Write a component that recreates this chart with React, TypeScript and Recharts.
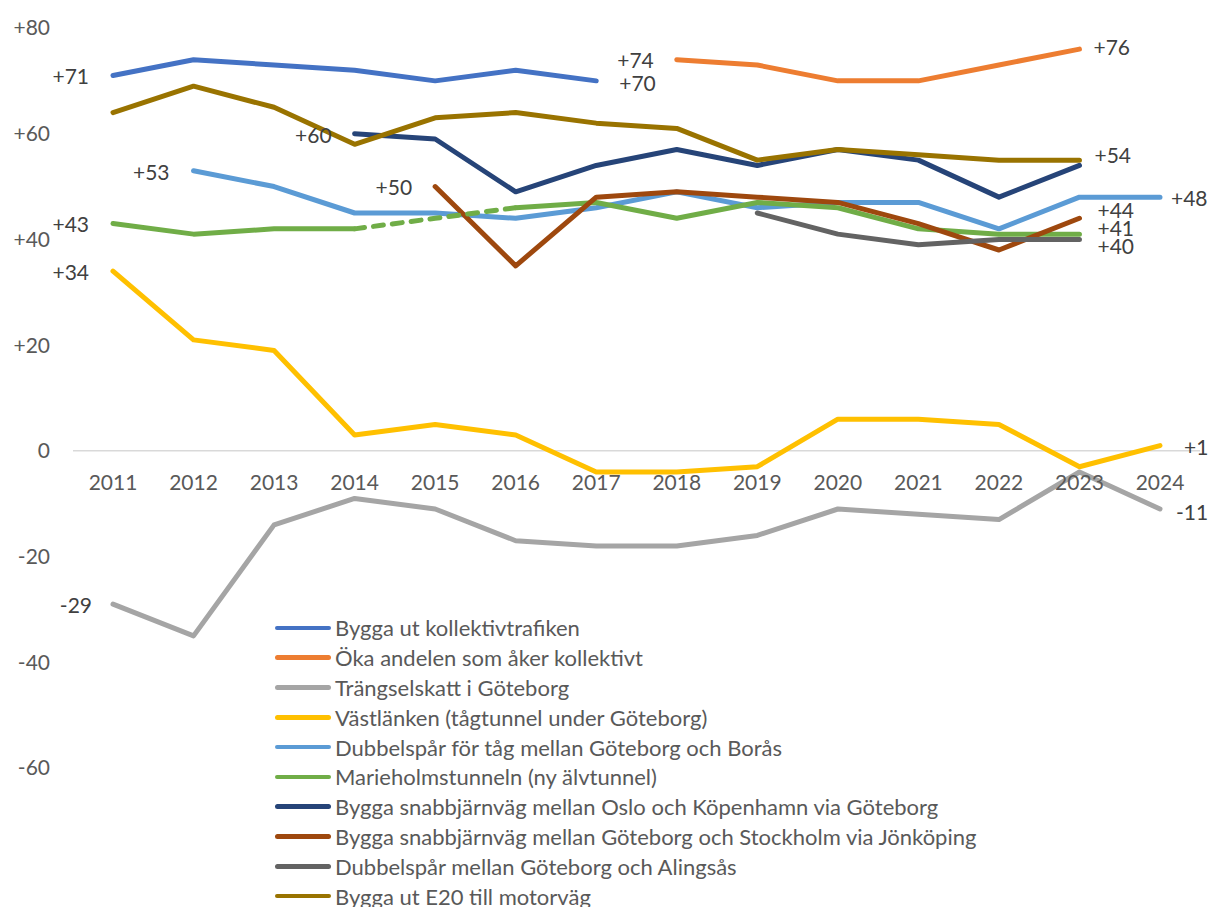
import { LineChart, Line, XAxis, YAxis, ReferenceLine, LabelList } from 'recharts';

const YEARS = ['2011', '2012', '2013', '2014', '2015', '2016', '2017', '2018', '2019', '2020', '2021', '2022', '2023', '2024'];
const Y_TICKS = [-60, -40, -20, 0, 20, 40, 60, 80];

// opinion balance per year (null = not asked that year)
const KOLLEKTIVTRAFIK = [71, 74, 73, 72, 70, 72, 70, null, null, null, null, null, null, null];
const OKA_ANDEL = [null, null, null, null, null, null, null, 74, 73, 70, 70, 73, 76, null];
const TRANGSELSKATT = [-29, -35, -14, -9, -11, -17, -18, -18, -16, -11, -12, -13, -4, -11];
const VASTLANKEN = [34, 21, 19, 3, 5, 3, -4, -4, -3, 6, 6, 5, -3, 1];
const BORAS = [null, 53, 50, 45, 45, 44, 46, 49, 46, 47, 47, 42, 48, 48];
const MARIEHOLM = [43, 41, 42, 42, null, 46, 47, 44, 47, 46, 42, 41, 41, null];
const MARIEHOLM_GAP = [null, null, null, 42, 44, 46, null, null, null, null, null, null, null, null];
const OSLO = [null, null, null, 60, 59, 49, 54, 57, 54, 57, 55, 48, 54, null];
const STOCKHOLM = [null, null, null, null, 50, 35, 48, 49, 48, 47, 43, 38, 44, null];
const ALINGSAS = [null, null, null, null, null, null, null, null, 45, 41, 39, 40, 40, null];
const E20 = [64, 69, 65, 58, 63, 64, 62, 61, 55, 57, 56, 55, 55, null];

const SERIES_KEYS = ['kollektiv', 'oka', 'trangsel', 'vastlanken', 'boras', 'marieholm', 'oslo', 'stockholm', 'alingsas', 'e20'];
const SERIES_NAMES = [
  'Bygga ut kollektivtrafiken',
  'Öka andelen som åker kollektivt',
  'Trängselskatt i Göteborg',
  'Västlänken (tågtunnel under Göteborg)',
  'Dubbelspår för tåg mellan Göteborg och Borås',
  'Marieholmstunneln (ny älvtunnel)',
  'Bygga snabbjärnväg mellan Oslo och Köpenhamn via Göteborg',
  'Bygga snabbjärnväg mellan Göteborg och Stockholm via Jönköping',
  'Dubbelspår mellan Göteborg och Alingsås',
  'Bygga ut E20 till motorväg',
];
const SERIES_VALUES = [KOLLEKTIVTRAFIK, OKA_ANDEL, TRANGSELSKATT, VASTLANKEN, BORAS, MARIEHOLM, OSLO, STOCKHOLM, ALINGSAS, E20];

const COLORS = ['#4472C4', '#ED7D31', '#A5A5A5', '#FFC000', '#5B9BD5', '#70AD47', '#264478', '#9E480E', '#636363', '#997300'];

const data = YEARS.map((year, i) => {
  const row: Record<string, any> = { year, marieholmGap: MARIEHOLM_GAP[i] };
  SERIES_KEYS.forEach((k, s) => { row[k] = SERIES_VALUES[s][i]; });
  return row;
});

type LabelSpec = { index: number; side: 'left' | 'right'; gap: number; dy: number };

// which points carry a value label, and where it sits
const LABELS: Record<string, LabelSpec[]> = {
  kollektiv: [{ index: 0, side: 'left', gap: 24, dy: 0 }, { index: 6, side: 'right', gap: 23, dy: 2 }],
  oka: [{ index: 7, side: 'left', gap: 23, dy: 0 }, { index: 12, side: 'right', gap: 14, dy: -3 }],
  trangsel: [{ index: 0, side: 'left', gap: 21, dy: 0 }, { index: 13, side: 'right', gap: 16, dy: 2 }],
  vastlanken: [{ index: 0, side: 'left', gap: 24, dy: 0 }, { index: 13, side: 'right', gap: 24, dy: 1 }],
  boras: [{ index: 1, side: 'left', gap: 24, dy: 1 }, { index: 13, side: 'right', gap: 11, dy: 0 }],
  marieholm: [{ index: 0, side: 'left', gap: 24, dy: 0 }, { index: 12, side: 'right', gap: 18, dy: -7 }],
  oslo: [{ index: 3, side: 'left', gap: 23, dy: 1 }, { index: 12, side: 'right', gap: 15, dy: -11 }],
  stockholm: [{ index: 4, side: 'left', gap: 23, dy: 0 }, { index: 12, side: 'right', gap: 18, dy: -9 }],
  alingsas: [{ index: 12, side: 'right', gap: 18, dy: 6 }],
  e20: [],
};

const WIDTH = 1208;
const HEIGHT = 907;
const MARGIN = { top: 28, right: 8, bottom: 109, left: 0 };
const X_AXIS_H = 30;
const Y_MIN = -60;
const Y_MAX = 80;
const PLOT_BOTTOM = HEIGHT - MARGIN.bottom - X_AXIS_H;
const ZERO_Y = MARGIN.top + ((Y_MAX - 0) / (Y_MAX - Y_MIN)) * (PLOT_BOTTOM - MARGIN.top);

const FONT = 'Lato, "Noto Sans", sans-serif';
const TEXT_SIZE = 21;

const fmt = (v: number) => (v > 0 ? `+${v}` : `${v}`);

const makeLabel = (specs: LabelSpec[]) => (props: any) => {
  const { x, y, value, index } = props;
  const spec = specs.find((s) => s.index === index);
  if (!spec || value == null) return null;
  const tx = spec.side === 'left' ? x - spec.gap : x + spec.gap;
  return (
    <text
      x={tx}
      y={y + spec.dy}
      textAnchor={spec.side === 'left' ? 'end' : 'start'}
      dominantBaseline="central"
      fill="#404040"
      fontSize={TEXT_SIZE}
      fontFamily={FONT}
    >
      {fmt(value)}
    </text>
  );
};

// year labels sit just under the zero line, not at the bottom of the plot
const YearTick = (props: any) => {
  const { x, payload } = props;
  return (
    <text x={x} y={ZERO_Y + 31} textAnchor="middle" dominantBaseline="central" fill="#595959" fontSize={TEXT_SIZE} fontFamily={FONT}>
      {payload.value}
    </text>
  );
};

export default function App() {
  return (
    <div style={{ position: 'absolute', left: 0, top: 0, width: WIDTH, height: HEIGHT, background: '#fff', fontFamily: FONT }}>
      <LineChart width={WIDTH} height={HEIGHT} data={data} margin={MARGIN}>
        <XAxis
          dataKey="year"
          axisLine={false}
          tickLine={false}
          height={X_AXIS_H}
          tick={<YearTick />}
          interval={0}
          padding={{ left: 40, right: 40 }}
        />
        <YAxis
          width={73}
          domain={[Y_MIN, Y_MAX]}
          ticks={Y_TICKS}
          axisLine={false}
          tickLine={false}
          tickSize={0}
          tickMargin={23}
          tickFormatter={fmt}
          tick={{ fill: '#595959', fontSize: TEXT_SIZE, fontFamily: FONT }}
        />
        <ReferenceLine y={0} stroke="#D9D9D9" strokeWidth={1.5} />
        {SERIES_KEYS.map((k, s) => (
          <Line
            key={k}
            type="linear"
            dataKey={k}
            name={SERIES_NAMES[s]}
            stroke={COLORS[s]}
            strokeWidth={5}
            strokeLinecap="round"
            strokeLinejoin="round"
            dot={false}
            activeDot={false}
            isAnimationActive={false}
          >
            <LabelList dataKey={k} content={makeLabel(LABELS[k])} />
          </Line>
        ))}
        <Line
          type="linear"
          dataKey="marieholmGap"
          stroke={COLORS[5]}
          strokeWidth={5}
          strokeDasharray="10 9"
          strokeLinecap="round"
          dot={false}
          activeDot={false}
          legendType="none"
          isAnimationActive={false}
        />
      </LineChart>
      <div style={{ position: 'absolute', left: 275, top: 613 }}>
        {SERIES_NAMES.map((name, s) => (
          <div key={name} style={{ display: 'flex', alignItems: 'center', height: 29.8 }}>
            <div style={{ width: 56, height: 4.5, borderRadius: 3, background: COLORS[s], marginRight: 4 }} />
            <span style={{ fontSize: 22, color: '#595959', whiteSpace: 'nowrap' }}>{name}</span>
          </div>
        ))}
      </div>
    </div>
  );
}
